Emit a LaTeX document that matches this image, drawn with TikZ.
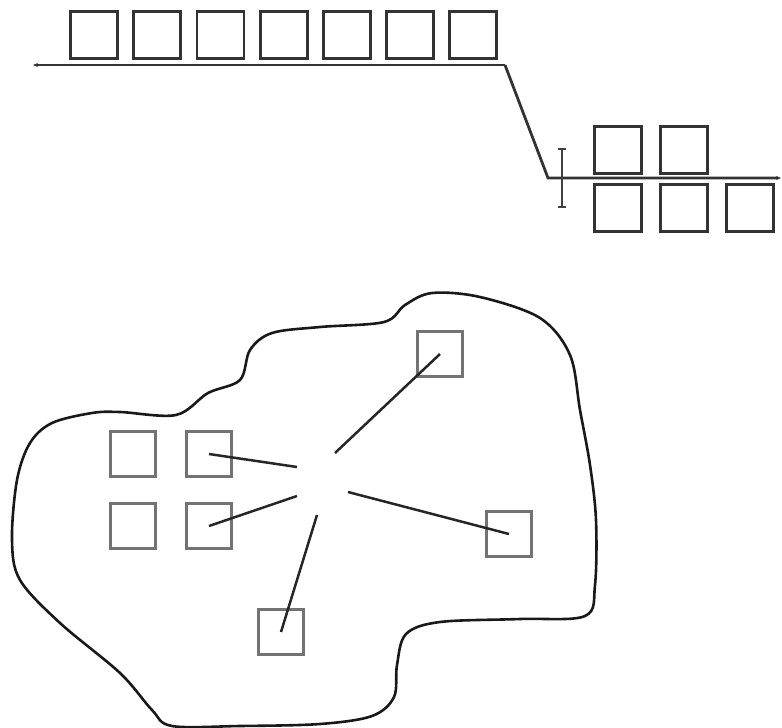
\documentclass[tikz,border=0pt]{standalone}
\usepackage{tikz}
\usetikzlibrary{positioning,arrows.meta,calc}

\begin{document}
\begin{tikzpicture}[
  x=1pt, y=-1pt,
  cell/.style={draw=black!80, line width=2.8pt, minimum size=47pt, inner sep=0pt},
  chip/.style={draw=black!55, line width=2.4pt, minimum size=45pt, inner sep=0pt},
  belt/.style={draw=black!80, line width=2.8pt},
  ray/.style={draw=black!85, line width=2.5pt},
  tip/.style={-{Stealth[length=5pt, width=4pt]}}
]
\useasboundingbox (0,0) rectangle (782,728);

\foreach \i in {0,...,6}
  \node[cell] (q\i) at ({94+63.2*\i},35) {};
\coordinate (tl) at (33,65);
\coordinate (tr) at (505,65);
\coordinate (bk) at (548,178);
\coordinate (br) at (781,178);
\draw[belt, tip] (tr) -- (tl);
\draw[belt, tip] (tr) -- (bk) -- (br);

\node[cell] (u1) at (618,150) {};
\node[cell, right=16pt of u1] (u2) {};
\node[cell] (d1) at (618,208) {};
\node[cell, right=16pt of d1] (d2) {};
\node[cell, right=16pt of d2] (d3) {};

\coordinate (gt) at (562,148);
\coordinate (gb) at (562,208);
\draw[line width=2.2pt, black!75, {Bar[width=8pt]}-{Bar[width=8pt]}] (gt) -- (gb);

\draw[line width=2.6pt, black!90] plot[smooth cycle, tension=0.55] coordinates {
  (432,293) (480,297) (540,318) (570,355) (580,410) (590,465) (596,520)
  (595,585) (585,616) (520,619) (440,622) (406,634) (397,665) (394,697)
  (372,716) (320,724) (240,726) (172,726) (152,710) (120,673) (60,623)
  (20,580) (12,540) (17,480) (30,443) (52,423) (92,413) (120,412)
  (176,415) (208,393) (240,380) (250,350) (272,333) (320,327) (384,322)
  (405,305)};

\node[chip] (pa) at (133,454) {};
\node[chip] (pb) at (209,454) {};
\node[chip] (pc) at (133,526) {};
\node[chip] (pd) at (209,526) {};
\node[chip] (pe) at (440,354) {};
\node[chip] (pf) at (509,534) {};
\node[chip] (pg) at (281,632) {};

\coordinate (cb) at (297,467);
\coordinate (cd) at (297,496);
\coordinate (ce) at (335,453);
\coordinate (cf) at (348,492);
\coordinate (cg) at (317,515);
\draw[ray] (cb) -- (pb.center);
\draw[ray] (cd) -- (pd.center);
\draw[ray] (ce) -- (pe.center);
\draw[ray] (cf) -- (pf.center);
\draw[ray] (cg) -- (pg.center);
\end{tikzpicture}
\end{document}
